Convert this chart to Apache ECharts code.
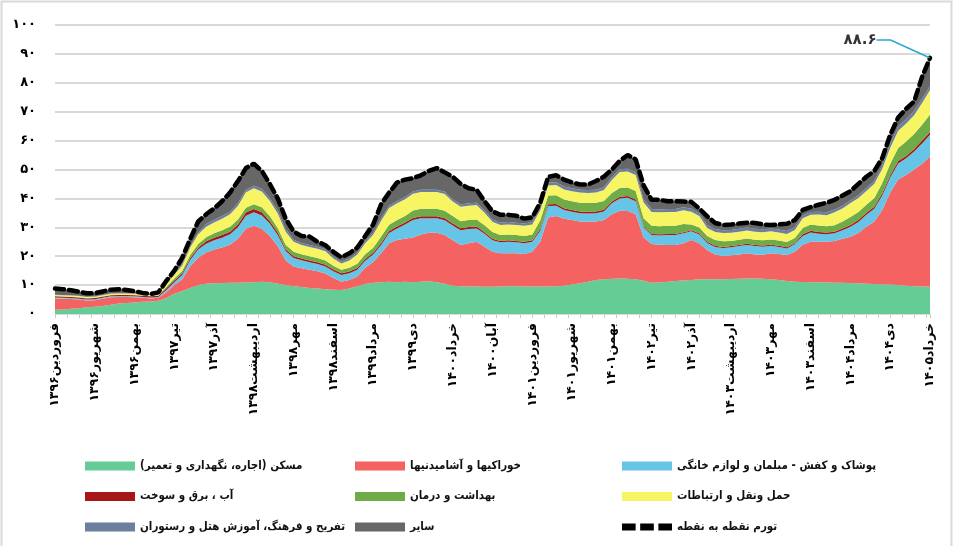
<!DOCTYPE html>
<html>
<head>
<meta charset="utf-8">
<title>تورم نقطه به نقطه</title>
<script src="https://cdn.jsdelivr.net/npm/echarts@6/dist/echarts.min.js"></script>
<style>
  html, body { margin: 0; padding: 0; background: #fff; }
  #chart { width: 954px; height: 546px; }
</style>
</head>
<body>
<div id="chart"></div>
<script>
// months from Farvardin 1396 to Khordad 1405
const monthNames = ['فروردین', 'اردیبهشت', 'خرداد', 'تیر', 'مرداد', 'شهریور', 'مهر', 'آبان', 'آذر', 'دی', 'بهمن', 'اسفند']
const startYear = 1396
const monthCount = 111

const yMin = 0
const yMax = 100
const yStep = 10

// contribution of each group (percentage points)
const housing = [
  1.5, 1.6, 1.8, 2.0, 2.3, 2.5, 2.8, 3.2, 3.6, 3.8,
  4.0, 4.2, 4.3, 4.6, 5.5, 7.0, 8.0, 9.0, 10.0, 10.5,
  10.6, 10.7, 10.8, 10.8, 10.9, 11.0, 11.2, 11.0, 10.5, 10.0,
  9.6, 9.3, 9.0, 8.8, 8.6, 8.4, 8.3, 8.8, 9.6, 10.4,
  10.8, 11.0, 11.2, 11.0, 11.2, 11.0, 11.2, 11.3, 11.0, 10.5,
  9.8, 9.6, 9.5, 9.5, 9.4, 9.4, 9.5, 9.6, 9.6, 9.5,
  9.5, 9.5, 9.5, 9.6, 9.8, 10.2, 10.6, 11.2, 11.8, 12.0,
  12.2, 12.3, 12.2, 12.0, 11.5, 10.8, 10.9, 11.2, 11.4, 11.6,
  11.8, 12.0, 12.0, 12.0, 12.0, 12.1, 12.2, 12.3, 12.3, 12.2,
  12.0, 11.8, 11.4, 11.2, 11.1, 11.0, 11.0, 10.9, 10.8, 10.8,
  10.7, 10.6, 10.5, 10.4, 10.3, 10.2, 10.0, 9.8, 9.6, 9.5, 9.5
]
const food = [
  3.9, 3.7, 3.4, 3.0, 2.4, 2.3, 2.5, 2.6, 2.3, 2.1,
  1.8, 1.4, 1.1, 1.0, 2.0, 3.0, 4.0, 7.5, 9.5, 10.8,
  11.7, 12.3, 13.2, 15.2, 18.6, 19.5, 18.3, 16.0, 13.0, 8.5,
  6.8, 6.5, 6.3, 6.0, 5.4, 4.1, 2.9, 3.0, 3.4, 5.6,
  7.2, 10.0, 13.3, 14.6, 14.8, 15.5, 16.3, 16.8, 17.1, 16.8,
  15.7, 14.3, 15.0, 15.5, 13.9, 12.1, 11.5, 11.4, 11.4, 11.3,
  12.0, 15.5, 23.9, 24.3, 23.2, 22.3, 21.4, 20.7, 20.2, 20.5,
  22.3, 23.4, 23.4, 22.5, 15.0, 13.4, 13.1, 12.7, 12.5, 12.9,
  13.8, 12.5, 10.1, 8.6, 8.1, 8.2, 8.4, 8.7, 8.3, 8.3,
  9.0, 9.0, 9.0, 10.3, 12.9, 14.0, 14.0, 14.1, 14.5, 15.2,
  16.0, 17.4, 19.7, 21.6, 25.7, 31.8, 36.5, 38.3, 40.4, 42.5, 45.0
]
const clothing = [
  0.3, 0.3, 0.3, 0.3, 0.3, 0.3, 0.3, 0.3, 0.3, 0.3,
  0.3, 0.3, 0.3, 0.3, 0.8, 1.0, 1.5, 2.2, 2.8, 3.0,
  3.2, 3.4, 3.6, 4.0, 4.5, 4.7, 4.6, 4.3, 3.8, 3.3,
  3.0, 2.8, 2.6, 2.5, 2.4, 2.3, 2.3, 2.3, 2.3, 2.4,
  2.6, 2.9, 3.5, 4.0, 5.0, 6.0, 5.6, 5.0, 5.0, 5.1,
  5.1, 5.1, 4.9, 4.6, 4.5, 4.0, 3.8, 4.0, 3.8, 3.7,
  3.5, 3.8, 4.0, 3.6, 3.0, 2.9, 2.9, 2.9, 2.9, 3.0,
  3.8, 4.3, 4.6, 4.5, 3.4, 3.1, 3.2, 3.4, 3.4, 3.4,
  3.0, 3.0, 2.5, 2.6, 2.7, 2.8, 2.9, 2.9, 2.9, 2.8,
  2.6, 2.4, 2.3, 2.6, 3.0, 3.2, 2.8, 2.6, 2.6, 3.0,
  3.5, 3.8, 4.1, 4.4, 5.0, 5.2, 5.6, 5.8, 6.2, 7.0, 7.5
]
const utilities = [
  0.4, 0.4, 0.4, 0.4, 0.4, 0.4, 0.4, 0.4, 0.4, 0.4,
  0.4, 0.4, 0.4, 0.4, 0.6, 0.6, 0.6, 0.6, 0.6, 0.9,
  0.9, 0.9, 0.9, 1.0, 1.1, 1.1, 1.1, 0.9, 0.9, 0.6,
  0.6, 0.6, 0.6, 0.6, 0.6, 0.6, 0.6, 0.6, 0.6, 0.6,
  0.6, 0.7, 0.7, 0.7, 0.7, 0.7, 0.7, 0.7, 0.7, 0.7,
  0.7, 0.7, 0.7, 0.7, 0.5, 0.5, 0.5, 0.5, 0.5, 0.5,
  0.5, 0.6, 0.6, 0.6, 0.6, 0.6, 0.6, 0.6, 0.6, 0.6,
  0.6, 0.6, 0.6, 0.6, 0.4, 0.4, 0.4, 0.4, 0.4, 0.4,
  0.4, 0.4, 0.4, 0.4, 0.4, 0.4, 0.4, 0.4, 0.4, 0.4,
  0.4, 0.4, 0.4, 0.4, 0.6, 0.6, 0.6, 0.6, 0.6, 0.6,
  0.6, 0.7, 0.7, 0.7, 0.8, 0.8, 0.8, 0.8, 0.9, 1.0, 1.0
]
const health = [
  0.1, 0.1, 0.1, 0.1, 0.1, 0.1, 0.1, 0.1, 0.1, 0.1,
  0.1, 0.1, 0.1, 0.1, 0.5, 0.7, 0.9, 1.1, 1.3, 1.4,
  1.5, 1.7, 1.7, 1.7, 1.7, 1.7, 1.7, 1.7, 1.6, 1.6,
  1.5, 1.5, 1.5, 1.5, 1.5, 1.3, 1.2, 1.3, 1.5, 1.7,
  1.7, 2.2, 2.2, 2.2, 2.2, 2.6, 2.6, 2.6, 2.6, 2.6,
  2.6, 2.4, 2.4, 2.4, 2.4, 2.4, 2.0, 2.0, 2.0, 2.0,
  2.0, 3.0, 3.0, 3.0, 3.0, 3.0, 3.0, 3.0, 3.0, 3.0,
  3.0, 3.0, 3.0, 3.0, 2.8, 2.8, 2.8, 2.8, 2.8, 2.8,
  2.0, 2.0, 2.0, 2.0, 2.0, 1.8, 1.8, 1.8, 1.8, 1.8,
  1.8, 1.8, 1.8, 1.8, 2.2, 2.2, 2.2, 2.2, 2.2, 2.4,
  2.8, 2.8, 2.8, 3.0, 3.5, 4.0, 4.5, 5.0, 5.2, 5.5, 6.0
]
const transport = [
  0.4, 0.4, 0.4, 0.4, 0.4, 0.4, 0.4, 0.4, 0.4, 0.4,
  0.4, 0.4, 0.4, 0.4, 1.0, 1.3, 1.8, 2.6, 3.4, 3.6,
  3.8, 4.0, 4.3, 4.8, 5.3, 5.5, 5.5, 5.3, 5.0, 4.5,
  3.5, 3.2, 3.2, 3.2, 3.2, 2.5, 2.2, 2.5, 3.2, 3.8,
  4.5, 5.5, 5.8, 5.8, 5.8, 5.8, 5.8, 5.8, 5.8, 5.8,
  5.0, 5.0, 5.0, 5.0, 4.3, 3.5, 3.5, 3.5, 3.5, 3.5,
  3.5, 3.5, 3.5, 3.5, 3.5, 3.5, 3.5, 3.5, 3.5, 3.8,
  4.5, 5.5, 5.5, 5.5, 5.5, 4.8, 4.8, 4.8, 4.8, 4.8,
  4.4, 4.0, 2.8, 2.8, 2.8, 2.8, 2.8, 2.8, 2.8, 2.8,
  2.8, 2.8, 2.8, 2.8, 3.3, 3.3, 3.8, 3.8, 4.5, 4.5,
  4.8, 4.8, 4.8, 5.0, 5.0, 5.5, 6.0, 6.2, 6.5, 7.5, 8.5
]
const recreation = [
  0.1, 0.1, 0.1, 0.1, 0.1, 0.1, 0.1, 0.1, 0.1, 0.1,
  0.1, 0.1, 0.1, 0.1, 0.5, 0.5, 0.5, 0.5, 0.5, 0.9,
  0.9, 0.9, 0.9, 0.9, 0.9, 0.9, 0.9, 0.9, 0.9, 0.9,
  0.7, 0.7, 0.7, 0.7, 0.7, 0.7, 0.7, 0.7, 0.7, 0.7,
  0.7, 0.8, 0.8, 0.8, 0.8, 0.8, 0.8, 0.8, 0.8, 0.8,
  0.8, 0.8, 0.8, 0.8, 0.8, 0.8, 0.8, 0.8, 0.8, 0.8,
  0.8, 1.0, 1.0, 1.0, 1.0, 1.0, 1.0, 1.0, 1.0, 1.0,
  1.0, 1.0, 1.0, 1.0, 1.0, 1.0, 1.0, 1.0, 1.0, 1.0,
  1.0, 1.0, 1.0, 1.0, 1.0, 1.0, 1.0, 1.0, 1.0, 1.0,
  1.0, 1.0, 1.0, 1.0, 1.0, 1.0, 1.0, 1.0, 1.0, 1.0,
  1.0, 1.0, 1.0, 1.0, 1.2, 1.5, 1.5, 1.5, 1.5, 1.5, 1.5
]
const others = [
  2.1, 2.0, 1.7, 1.4, 1.2, 1.1, 1.2, 1.3, 1.4, 1.1,
  0.8, 0.4, 0.2, 0.6, 0.6, 0.9, 2.2, 2.5, 3.9, 3.4,
  3.9, 5.1, 6.6, 7.6, 7.5, 7.6, 6.2, 4.9, 4.3, 3.6,
  2.8, 2.4, 2.9, 1.7, 1.4, 1.6, 1.4, 1.8, 1.7, 1.8,
  2.9, 4.9, 4.5, 6.4, 6.0, 4.6, 5.0, 6.5, 7.5, 6.7,
  7.8, 7.1, 5.2, 4.5, 3.2, 2.8, 2.7, 2.5, 2.4, 1.7,
  1.7, 1.6, 2.0, 2.4, 2.4, 2.0, 1.8, 1.9, 3.0, 3.6,
  2.6, 2.9, 4.7, 4.4, 4.9, 3.2, 3.3, 2.7, 2.7, 2.0,
  2.4, 1.6, 3.0, 2.1, 1.8, 1.9, 1.8, 1.7, 2.0, 1.7,
  1.2, 1.8, 2.5, 2.4, 1.9, 1.7, 2.4, 3.3, 3.3, 3.5,
  3.1, 3.9, 3.9, 3.4, 2.5, 3.0, 3.1, 3.6, 3.2, 7.5, 9.6
]
// point-to-point inflation
const headline = [
  8.8, 8.6, 8.2, 7.7, 7.2, 7.2, 7.8, 8.4, 8.6, 8.3,
  7.9, 7.3, 6.9, 7.5, 11.5, 15.0, 19.5, 26.0, 32.0, 34.5,
  36.5, 39.0, 42.0, 46.0, 50.5, 52.0, 49.5, 45.0, 40.0, 33.0,
  28.5, 27.0, 26.8, 25.0, 23.8, 21.5, 19.6, 21.0, 23.0, 27.0,
  31.0, 38.0, 42.0, 45.5, 46.5, 47.0, 48.0, 49.5, 50.5, 49.0,
  47.5, 45.0, 43.5, 43.0, 39.0, 35.5, 34.3, 34.3, 34.0, 33.0,
  33.5, 38.5, 47.5, 48.0, 46.5, 45.5, 44.8, 44.8, 46.0, 47.5,
  50.0, 53.0, 55.0, 53.5, 44.5, 39.5, 39.5, 39.0, 39.0, 38.9,
  38.8, 36.5, 33.8, 31.5, 30.8, 31.0, 31.3, 31.6, 31.5, 31.0,
  30.8, 31.0, 31.2, 32.5, 36.0, 37.0, 37.8, 38.5, 39.5, 41.0,
  42.5, 45.0, 47.5, 49.5, 54.0, 62.0, 68.0, 71.0, 73.5, 82.0, 88.6
]

const faDigits = '۰۱۲۳۴۵۶۷۸۹'
const toFa = s => String(s).replace(/[0-9]/g, d => faDigits[d])
const rtl = s => '\u202B' + s + '\u202C'

const categories = []
for (let i = 0; i < monthCount; i++) {
  categories.push(monthNames[i % 12] + toFa(startYear + Math.floor(i / 12)))
}

const font = 'DejaVu Sans'
const narrowFont = "'DejaVu Sans Condensed', 'DejaVu Sans'"

const groups = [
  { name: 'مسکن (اجاره، نگهداری و تعمیر)', data: housing, color: '#66cc96' },
  { name: 'خوراکیها و آشامیدنیها', data: food, color: '#f46262' },
  { name: 'پوشاک و کفش - مبلمان و لوازم خانگی', data: clothing, color: '#66c4e6' },
  { name: 'آب ، برق و سوخت', data: utilities, color: '#a81717' },
  { name: 'بهداشت و درمان', data: health, color: '#6fab46' },
  { name: 'حمل ونقل و ارتباطات', data: transport, color: '#f8f565' },
  { name: 'تفریح و فرهنگ، آموزش هتل و رستوران', data: recreation, color: '#6d7f9f' },
  { name: 'سایر', data: others, color: '#676767' }
]
const headlineName = 'تورم نقطه به نقطه'

const areaSeries = groups.map(g => ({
  name: g.name,
  type: 'line',
  stack: 'total',
  data: g.data,
  symbol: 'none',
  lineStyle: { width: 0 },
  areaStyle: { color: g.color, opacity: 1 },
  itemStyle: { color: g.color },
  emphasis: { disabled: true },
  silent: true,
  z: 2
}))

const legendText = { fontFamily: narrowFont, fontWeight: 'bold', fontSize: 11.5, color: '#111' }
const dashIcon = 'path://M0,0H12V6H0Z M16,0H28V6H16Z M32,0H44V6H32Z'
const makeLegend = (left, names) => ({
  orient: 'vertical',
  left: left,
  top: 460,
  padding: 0,
  itemWidth: 50,
  itemHeight: 9,
  itemGap: 18.5,
  textStyle: legendText,
  formatter: rtl,
  selectedMode: false,
  data: names.map(n => n === headlineName
    ? { name: n, icon: dashIcon, itemStyle: { color: '#000' } }
    : { name: n, icon: 'rect' })
})

const chart = echarts.init(document.getElementById('chart'))

chart.setOption({
  animation: false,
  backgroundColor: '#fff',
  graphic: [{
    type: 'rect',
    shape: { x: 1.5, y: 1.5, width: 950, height: 560 },
    style: { fill: 'none', stroke: '#d9d9d9', lineWidth: 2 },
    silent: true,
    z: -1
  }],
  grid: { left: 55, right: 24, top: 25, bottom: 232 },
  legend: [
    makeLegend(85, [groups[0].name, groups[3].name, groups[6].name]),
    makeLegend(355, [groups[1].name, groups[4].name, groups[7].name]),
    makeLegend(622, [groups[2].name, groups[5].name, headlineName])
  ],
  xAxis: [{
    type: 'category',
    boundaryGap: false,
    data: categories,
    axisLine: { lineStyle: { color: '#d9d9d9', width: 1 } },
    axisTick: { show: false },
    axisLabel: {
      interval: 4,
      rotate: 90,
      margin: 9,
      fontFamily: font,
      fontWeight: 'bold',
      fontSize: 12.5,
      color: '#000',
      formatter: rtl
    },
    z: 3
  }, {
    // minor ticks under the axis
    type: 'value',
    position: 'bottom',
    min: 0,
    max: monthCount - 1,
    interval: 1.5,
    axisLine: { show: false },
    axisLabel: { show: false },
    splitLine: { show: false },
    axisTick: { show: true, length: 4, lineStyle: { color: '#c8c8c8', width: 1 } }
  }],
  yAxis: {
    type: 'value',
    min: yMin,
    max: yMax,
    interval: yStep,
    axisLine: { show: false },
    axisTick: { show: false },
    axisLabel: {
      margin: 19,
      fontFamily: font,
      fontWeight: 'bold',
      fontSize: 13,
      color: '#000',
      formatter: v => toFa(v)
    },
    splitLine: { lineStyle: { color: '#d9d9d9', width: 2 } }
  },
  series: [
    ...areaSeries,
    {
      name: headlineName,
      type: 'line',
      data: headline,
      symbol: 'none',
      lineStyle: { color: '#000', width: 4.5, type: [9, 5], cap: 'round' },
      itemStyle: { color: '#000' },
      emphasis: { disabled: true },
      silent: true,
      z: 5
    },
    {
      // callout for the last value
      type: 'scatter',
      data: [[monthCount - 1, headline[monthCount - 1]]],
      symbolSize: 1,
      itemStyle: { color: 'rgba(0,0,0,0)' },
      silent: true,
      z: 6,
      label: {
        show: true,
        formatter: p => toFa(p.value[1].toFixed(1)),
        fontFamily: font,
        fontWeight: 'bold',
        fontSize: 15,
        color: '#000'
      },
      labelLayout: { x: 860, y: 40, align: 'center', verticalAlign: 'middle' },
      labelLine: { show: true, length2: 14, lineStyle: { color: '#2aa8cc', width: 1.5 } }
    }
  ]
})

window.addEventListener('resize', () => chart.resize())
</script>
</body>
</html>
